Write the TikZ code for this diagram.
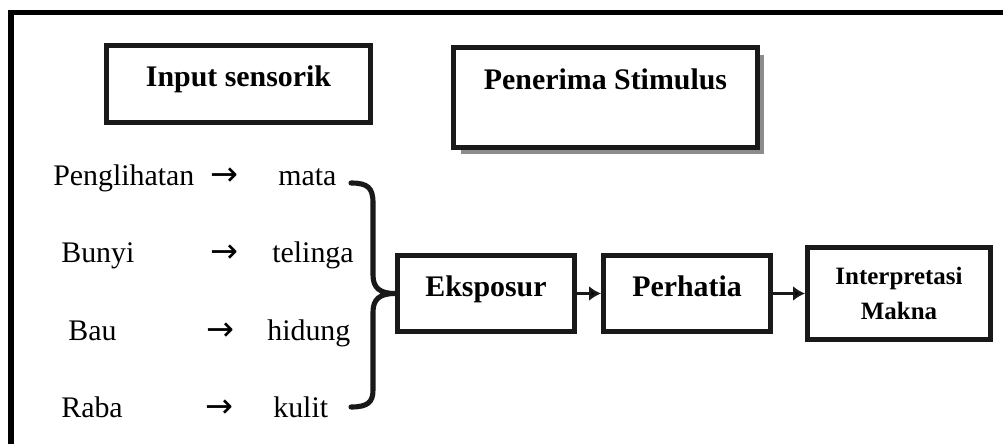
\documentclass[tikz,border=0pt]{standalone}
\usepackage{fontspec}
\setmainfont{Liberation Serif}
\newfontfamily\panahfont{DejaVu Sans}
\usetikzlibrary{arrows.meta,shadows}

\begin{document}
\begin{tikzpicture}[>={Latex[length=0.24cm,width=0.3cm]},
  kotak/.style={draw=black!90,line width=3.1pt,fill=white,font=\fontsize{17}{20}\selectfont\bfseries,
    text height=0.44cm,text depth=0.34cm,inner sep=0pt},
  teks/.style={font=\fontsize{17}{20}\selectfont,inner sep=0pt,anchor=base west},
  panah/.style={teks,font=\fontsize{19}{20}\panahfont},
  kurung/.style={draw=black!90,line width=2.9pt,line cap=round}]

  \useasboundingbox (0,0) rectangle (20.06,-8.86);

  % bingkai luar
  \draw[line width=3.4pt] (20.2,-0.25) -- (0.22,-0.25) -- (0.22,-9);

  \node[kotak,minimum width=5.27cm,minimum height=1.53cm] (input) at (4.77,-1.68) {Input sensorik};
  \node[kotak,minimum width=6.07cm,minimum height=1.99cm,text depth=0.78cm,
    drop shadow={shadow xshift=0.14cm,shadow yshift=-0.14cm,fill=black!45,opacity=1}] (penerima) at (12.11,-1.95) {Penerima Stimulus};

  \node[teks] (penglihatan) at (1.06,-3.70) {Penglihatan};
  \node[panah] (a1) at (4.20,-3.70) {→};
  \node[teks] (mata) at (5.56,-3.70) {mata};
  \node[teks] (bunyi) at (1.22,-5.24) {Bunyi};
  \node[panah] (a2) at (4.20,-5.24) {→};
  \node[teks] (telinga) at (5.44,-5.24) {telinga};
  \node[teks] (bau) at (1.36,-6.80) {Bau};
  \node[panah] (a3) at (4.12,-6.80) {→};
  \node[teks] (hidung) at (5.34,-6.80) {hidung};
  \node[teks] (raba) at (1.22,-8.34) {Raba};
  \node[panah] (a4) at (4.10,-8.34) {→};
  \node[teks] (kulit) at (5.46,-8.34) {kulit};

  \node[kotak,minimum width=3.53cm,minimum height=1.51cm] (eks) at (9.72,-5.87) {Eksposur};
  \node[kotak,minimum width=3.33cm,minimum height=1.51cm] (per) at (13.74,-5.87) {Perhatia};
  \node[kotak,minimum width=3.65cm,minimum height=1.83cm,align=center,
    font=\fontsize{14.2}{19.4}\selectfont\bfseries,text height=,text depth=] (int) at (17.98,-5.87) {Interpretasi\\Makna};

  % kurung kurawal
  \coordinate (ka) at (7.02,-3.66);
  \coordinate (kb) at (7.02,-8.14);
  \draw[kurung] (ka) .. controls (7.36,-3.66) and (7.46,-3.76) .. (7.46,-4.06)
    -- (7.46,-5.50) .. controls (7.46,-5.76) and (7.60,-5.87) .. (eks.west)
    .. controls (7.60,-5.87) and (7.46,-5.98) .. (7.46,-6.24)
    -- (7.46,-7.80) .. controls (7.46,-8.04) and (7.36,-8.14) .. (kb);

  \path[line width=1.4pt,draw=black!90]
    (eks) edge[->] (per)
    (per) edge[->] (int);

\end{tikzpicture}
\end{document}
